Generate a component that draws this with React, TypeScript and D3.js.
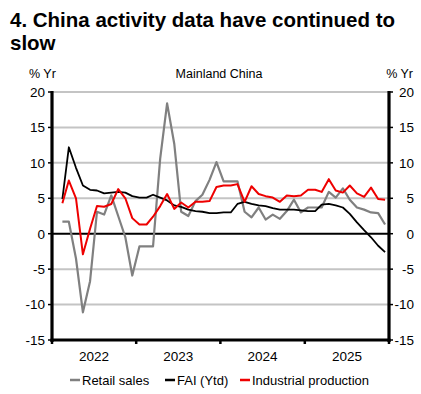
import React from 'react';
import * as d3 from 'd3';

// monthly, Jan 2022 .. Nov 2025
const firstMonth = new Date(2022, 0, 15);
const lastMonth = new Date(2025, 10, 15);

const retailSales = [
  1.7, 1.7, -3.5, -11.1, -6.7, 3.1, 2.7, 5.4, 2.5, -0.5, -5.9, -1.8,
  -1.8, -1.8, 10.6, 18.4, 12.7, 3.1, 2.5, 4.6, 5.5, 7.6, 10.1, 7.4,
  7.4, 7.4, 3.1, 2.3, 3.7, 2.0, 2.7, 2.1, 3.2, 4.8, 3.0, 3.7,
  3.7, 3.7, 5.9, 5.1, 6.4, 4.8, 3.7, 3.4, 3.0, 2.9, 1.3,
];
const faiYtd = [
  4.9, 12.2, 9.3, 6.8, 6.2, 6.1, 5.7, 5.8, 5.9, 5.8, 5.3, 5.1,
  5.1, 5.5, 5.1, 4.7, 4.0, 3.8, 3.4, 3.2, 3.1, 2.9, 2.9, 3.0,
  3.0, 4.2, 4.5, 4.2, 4.0, 3.9, 3.6, 3.4, 3.4, 3.4, 3.3, 3.2,
  3.2, 4.1, 4.2, 4.0, 3.7, 2.8, 1.6, 0.5, -0.5, -1.7, -2.6,
];
const industrialProduction = [
  4.3, 7.5, 5.0, -2.9, 0.7, 3.9, 3.8, 4.2, 6.3, 5.0, 2.2, 1.3,
  1.3, 2.4, 3.9, 5.6, 3.5, 4.4, 3.7, 4.5, 4.5, 4.6, 6.6, 6.8,
  6.8, 7.0, 4.5, 6.7, 5.6, 5.3, 5.1, 4.5, 5.4, 5.3, 5.4, 6.2,
  6.2, 5.9, 7.7, 6.1, 5.8, 6.8, 5.7, 5.2, 6.5, 4.9, 4.8,
];

const yTicks = [20, 15, 10, 5, 0, -5, -10, -15];
const years = [2022, 2023, 2024, 2025];

const width = 421;
const height = 394;
const left = 52;
const right = 389;
const top = 92;
const bottom = 340;
const font = 'Arial, "Liberation Sans", sans-serif';

export default function App() {
  const months = d3.timeMonth.range(firstMonth, d3.timeMonth.offset(lastMonth, 1)).map((d) => new Date(d.getFullYear(), d.getMonth(), 15));

  const x = d3.scaleTime().domain([new Date(2022, 0, 1), new Date(2026, 0, 1)]).range([left, right]);
  const y = d3.scaleLinear().domain([-15, 20]).range([bottom, top]);

  const line = d3
    .line<number>()
    .x((d, i) => x(months[i]))
    .y((d) => y(d));

  const series = [
    { name: 'Retail sales', values: retailSales, color: '#808080', width: 2.2 },
    { name: 'FAI (Ytd)', values: faiYtd, color: '#000000', width: 1.8 },
    { name: 'Industrial production', values: industrialProduction, color: '#ee0000', width: 2 },
  ];

  const yearStarts = years.map((yr) => new Date(yr, 0, 1)).concat([new Date(2026, 0, 1)]);
  const legendX = [70, 165, 240];

  return (
    <svg width={width} height={height} style={{ position: 'absolute', left: 0, top: 0, background: '#fff' }} fontFamily={font}>
      <text x={10} y={27} fontSize={20.5} fontWeight="bold">4. China activity data have continued to</text>
      <text x={10} y={50} fontSize={20.5} fontWeight="bold">slow</text>

      <text x={29} y={78} fontSize={12.5}>% Yr</text>
      <text x={219} y={78} fontSize={12.5} textAnchor="middle">Mainland China</text>
      <text x={413} y={78} fontSize={12.5} textAnchor="end">% Yr</text>

      {yTicks.filter((t) => t !== 0 && t !== -15).map((t) => (
        <line key={'g' + t} x1={left} x2={right} y1={y(t)} y2={y(t)} stroke="#c4c4c4" strokeWidth={2} />
      ))}
      <line x1={left} x2={right} y1={y(0)} y2={y(0)} stroke="#000" strokeWidth={2} />

      {series.map((s) => (
        <path key={s.name} d={line(s.values) || ''} fill="none" stroke={s.color} strokeWidth={s.width} strokeLinejoin="round" />
      ))}

      {/* axes */}
      <line x1={left} x2={left} y1={top - 1} y2={bottom + 2} stroke="#000" strokeWidth={3.2} />
      <line x1={right} x2={right} y1={top - 1} y2={bottom + 2} stroke="#000" strokeWidth={3.2} />
      <line x1={left - 1.5} x2={right + 1.5} y1={bottom} y2={bottom} stroke="#000" strokeWidth={3} />

      {yTicks.map((t) => (
        <g key={'t' + t}>
          <line x1={left - 4} x2={left} y1={y(t)} y2={y(t)} stroke="#000" strokeWidth={1.5} />
          <line x1={right} x2={right + 4} y1={y(t)} y2={y(t)} stroke="#000" strokeWidth={1.5} />
          <text x={45} y={y(t)} dy="0.36em" fontSize={13.5} textAnchor="end">{t}</text>
          <text x={414} y={y(t)} dy="0.36em" fontSize={13.5} textAnchor="end">{t}</text>
        </g>
      ))}

      {yearStarts.map((d, i) => (
        <line key={'yt' + i} x1={x(d)} x2={x(d)} y1={bottom} y2={bottom + 4} stroke="#000" strokeWidth={2.5} />
      ))}
      {years.map((yr, i) => (
        <text key={'yl' + yr} x={(x(yearStarts[i]) + x(yearStarts[i + 1])) / 2} y={361} fontSize={13.5} textAnchor="middle">{yr}</text>
      ))}

      {series.map((s, i) => (
        <g key={'lg' + s.name}>
          <line x1={legendX[i]} x2={legendX[i] + 10} y1={380} y2={380} stroke={s.color} strokeWidth={2.5} />
          <text x={legendX[i] + 12} y={385} fontSize={13}>{s.name}</text>
        </g>
      ))}
    </svg>
  );
}
